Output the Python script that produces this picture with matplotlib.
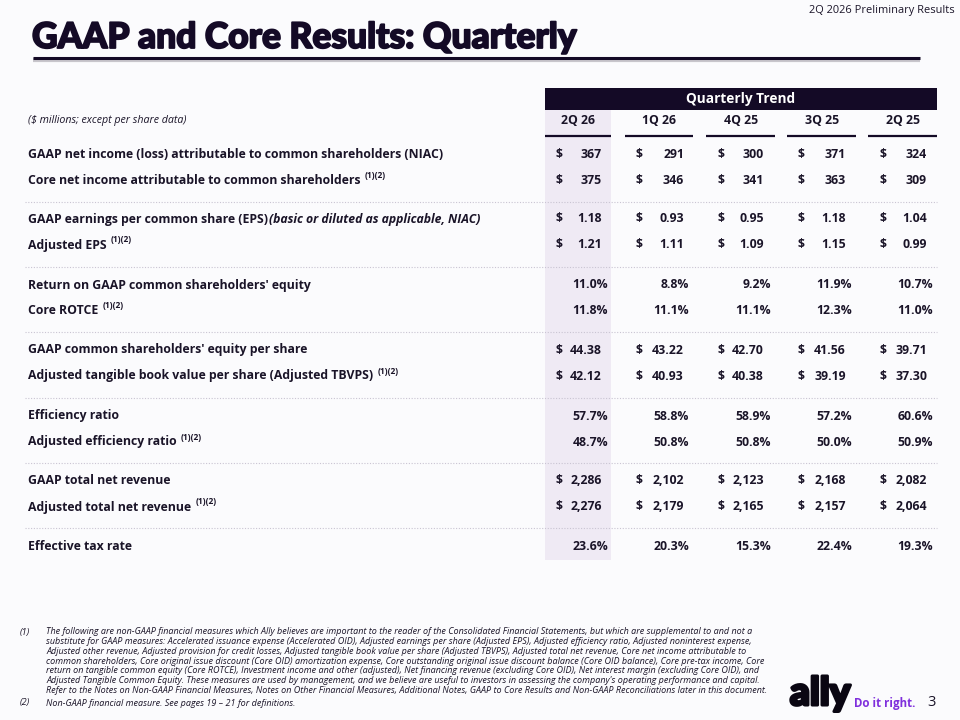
import matplotlib
matplotlib.use("Agg")
import matplotlib.pyplot as plt
import matplotlib.patheffects as pe

# data
quarters = ["2Q 26", "1Q 26", "4Q 25", "3Q 25", "2Q 25"]
row_labels = [
    "GAAP net income (loss) attributable to common shareholders (NIAC)",
    "Core net income attributable to common shareholders",
    "GAAP earnings per common share (EPS)",
    "Adjusted EPS",
    "Return on GAAP common shareholders' equity",
    "Core ROTCE",
    "GAAP common shareholders' equity per share",
    "Adjusted tangible book value per share (Adjusted TBVPS)",
    "Efficiency ratio",
    "Adjusted efficiency ratio",
    "GAAP total net revenue",
    "Adjusted total net revenue",
    "Effective tax rate",
]
footnote_rows = [False, True, False, True, False, True, False, True, False, True, False, True, False]
row_kind = ["$", "$", "$", "$", "%", "%", "$", "$", "%", "%", "$", "$", "%"]
niac = [367, 291, 300, 371, 324]
core_ni = [375, 346, 341, 363, 309]
eps = [1.18, 0.93, 0.95, 1.18, 1.04]
adj_eps = [1.21, 1.11, 1.09, 1.15, 0.99]
roe = [11.0, 8.8, 9.2, 11.9, 10.7]
core_rotce = [11.8, 11.1, 11.1, 12.3, 11.0]
equity_ps = [44.38, 43.22, 42.70, 41.56, 39.71]
adj_tbvps = [42.12, 40.93, 40.38, 39.19, 37.30]
eff_ratio = [57.7, 58.8, 58.9, 57.2, 60.6]
adj_eff_ratio = [48.7, 50.8, 50.8, 50.0, 50.9]
net_rev = [2286, 2102, 2123, 2168, 2082]
adj_net_rev = [2276, 2179, 2165, 2157, 2064]
tax_rate = [23.6, 20.3, 15.3, 22.4, 19.3]
values = [niac, core_ni, eps, adj_eps, roe, core_rotce, equity_ps, adj_tbvps,
          eff_ratio, adj_eff_ratio, net_rev, adj_net_rev, tax_rate]
decimals = [0, 0, 2, 2, 1, 1, 2, 2, 1, 1, 0, 0, 1]

footnote1 = [
    "The following are non-GAAP financial measures which Ally believes are important to the reader of the Consolidated Financial Statements, but which are supplemental to and not a",
    "substitute for GAAP measures: Accelerated issuance expense (Accelerated OID), Adjusted earnings per share (Adjusted EPS), Adjusted efficiency ratio, Adjusted noninterest expense,",
    "Adjusted other revenue, Adjusted provision for credit losses, Adjusted tangible book value per share (Adjusted TBVPS), Adjusted total net revenue, Core net income attributable to",
    "common shareholders, Core original issue discount (Core OID) amortization expense, Core outstanding original issue discount balance (Core OID balance), Core pre-tax income, Core",
    "return on tangible common equity (Core ROTCE), Investment income and other (adjusted), Net financing revenue (excluding Core OID), Net interest margin (excluding Core OID), and",
    "Adjusted Tangible Common Equity. These measures are used by management, and we believe are useful to investors in assessing the company's operating performance and capital.",
    "Refer to the Notes on Non-GAAP Financial Measures, Notes on Other Financial Measures, Additional Notes, GAAP to Core Results and Non-GAAP Reconciliations later in this document.",
]
footnote2 = "Non-GAAP financial measure. See pages 19 \u2013 21 for definitions."

DARK = "#140a26"
TEXT = "#1a1428"
HILITE = "#efeaf4"
BG = "#fbfbfd"
FONT = "Open Sans"
FS = 8.8

fig = plt.figure(figsize=(9.6, 7.2), dpi=100, facecolor=BG)
ax = fig.add_axes([0, 0, 1, 1])
ax.set_xlim(0, 960)
ax.set_ylim(720, 0)
ax.axis("off")
ax.set_facecolor(BG)

# header
ax.text(955, 11, "2Q 2026 Preliminary Results", ha="right", va="center", fontsize=7.9,
        family=FONT, color=TEXT)
ax.text(32, 38, "GAAP and Core Results: Quarterly", ha="left", va="center", fontsize=25.5,
        family="Lato", weight="black", color=DARK,
        path_effects=[pe.withStroke(linewidth=1.3, foreground=DARK)])
ax.plot([33, 920], [59.5, 59.5], color="#c8c6cc", lw=3, solid_capstyle="butt")
ax.plot([33, 920], [58, 58], color=DARK, lw=2.2, solid_capstyle="butt")

col_centers = [578, 659, 741, 822, 903]
col_left = [545, 625, 706, 787, 868]
col_right = [611, 693, 775, 856, 937]
dollar_x = [555, 635, 717, 798, 879]
num_right = [602, 684, 764, 846, 927]
pct_right = [608, 689, 771, 852, 933]

row_y = [154, 180, 219, 245, 285, 311, 350, 376, 416, 442, 481, 507, 546]
sep_y = [202, 267, 332, 398, 463, 528]

# highlight column and trend bar
ax.add_patch(plt.Rectangle((545, 110), 66, 450, color=HILITE, lw=0, zorder=0))
ax.add_patch(plt.Rectangle((545, 88), 392, 22, color=DARK, lw=0, zorder=1))
ax.text(741, 98.5, "Quarterly Trend", ha="center", va="center", fontsize=9.8,
        family=FONT, weight="bold", color="white")

ax.text(28, 121, "($ millions; except per share data)", ha="left", va="center",
        fontsize=7.7, style="italic", family=FONT, color=TEXT)
for q, cx, l, r in zip(quarters, col_centers, col_left, col_right):
    ax.text(cx, 121, q, ha="center", va="center", fontsize=FS, weight="bold",
            family=FONT, color=TEXT)
    ax.plot([l, r], [136, 136], color=DARK, lw=1.6, solid_capstyle="butt")

for y in sep_y:
    ax.plot([25, 937], [y, y], color="#c9c4d2", lw=0.8, ls=(0, (1, 1.5)))

fig.canvas.draw()
renderer = fig.canvas.get_renderer()
inv = ax.transData.inverted()

for i, (lab, y) in enumerate(zip(row_labels, row_y)):
    t = ax.text(28, y, lab, ha="left", va="center", fontsize=FS, weight="bold",
                family=FONT, color=TEXT)
    bb = t.get_window_extent(renderer)
    x_end = inv.transform((bb.x1, bb.y0))[0]
    if i == 2:
        ax.text(x_end + 1, y, "(basic or diluted as applicable, NIAC)", ha="left",
                va="center", fontsize=FS, weight="bold", style="italic",
                family=FONT, color=TEXT)
    if footnote_rows[i]:
        ax.text(x_end + 4, y - 5, "(1)(2)", ha="left", va="center", fontsize=6,
                weight="bold", family=FONT, color=TEXT)
    vals = values[i]
    for j in range(5):
        v = vals[j]
        if row_kind[i] == "%":
            ax.text(pct_right[j], y, f"{v:.{decimals[i]}f}%", ha="right", va="center",
                    fontsize=FS, weight="bold", family=FONT, color=TEXT)
        else:
            ax.text(dollar_x[j], y, "$", ha="left", va="center", fontsize=FS,
                    weight="bold", family=FONT, color=TEXT)
            ax.text(num_right[j], y, f"{v:,.{decimals[i]}f}", ha="right", va="center",
                    fontsize=FS, weight="bold", family=FONT, color=TEXT)

# footnotes
ax.text(20, 632, "(1)", ha="left", va="center", fontsize=6.6, style="italic",
        family=FONT, color=TEXT)
for k, line in enumerate(footnote1):
    ax.text(46, 632 + k * 9.7, line, ha="left", va="center", fontsize=6.5,
            style="italic", family=FONT, color=TEXT)
ax.text(20, 703, "(2)", ha="left", va="center", fontsize=6.6, style="italic",
        family=FONT, color=TEXT)
ax.text(46, 703, footnote2, ha="left", va="center", fontsize=6.5, style="italic",
        family=FONT, color=TEXT)

# logo
ax.text(790, 705, "ally", ha="left", va="baseline", fontsize=28, family="Lato",
        weight="black", color="#0a0612",
        path_effects=[pe.withStroke(linewidth=2.2, foreground="#0a0612")])
ax.text(854, 703, "Do it right.", ha="left", va="center", fontsize=8.3, family=FONT,
        weight="bold", color="#7f2fdc")
ax.text(932, 703, "3", ha="center", va="center", fontsize=10.5, family=FONT, color=TEXT)

fig.savefig("out.png", dpi=100, facecolor=BG)
